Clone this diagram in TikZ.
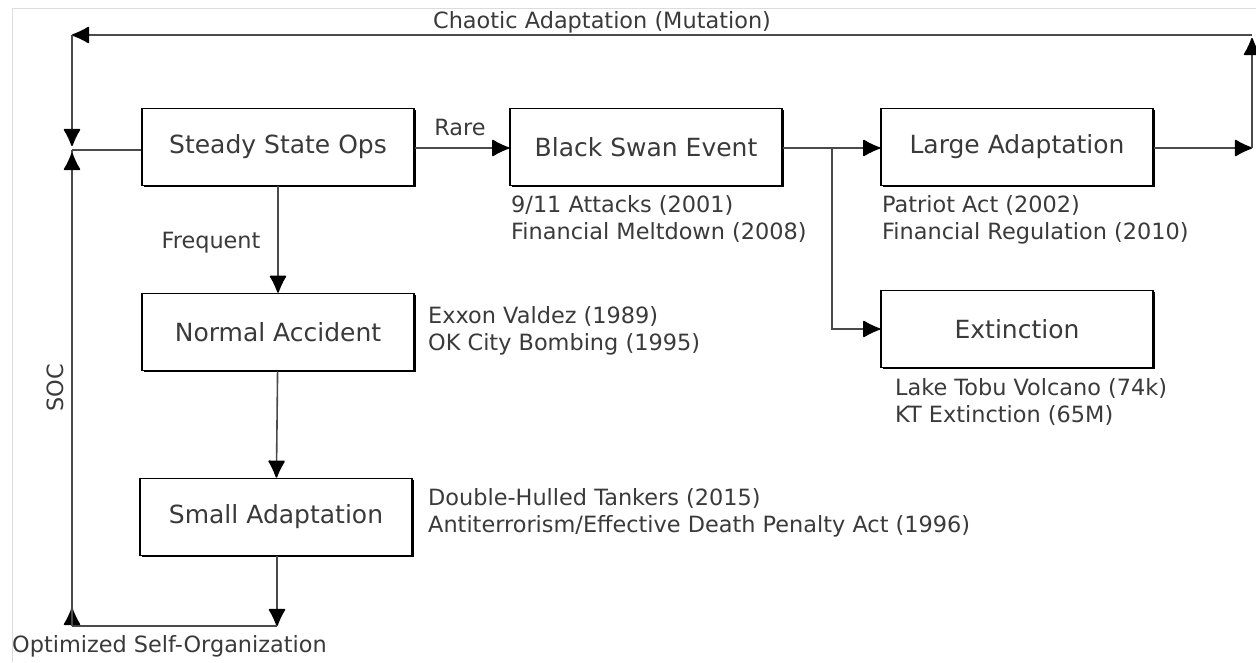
\documentclass[tikz,border=0pt]{standalone}
\usepackage{fontspec}
\setmainfont{DejaVu Sans}
\usetikzlibrary{arrows.meta,shadows,decorations.markings,calc}
\definecolor{ink}{HTML}{3A3A3A}
\definecolor{wire}{HTML}{4A4A4A}
\definecolor{frame}{HTML}{DCDCDC}
\begin{document}
\begin{tikzpicture}[x=1pt,y=-1pt,
  stagebox/.style={draw=black,line width=1.6pt,fill=white,minimum width=272pt,minimum height=77pt,
    inner sep=0pt,text=ink,font=\fontsize{25}{28}\selectfont,
    drop shadow={shadow xshift=1.6pt,shadow yshift=-1.6pt,fill=black,opacity=1}},
  note/.style={anchor=north west,align=left,text=ink,inner sep=0pt,font=\fontsize{22.4}{27}\selectfont},
  tag/.style={text=ink,inner sep=0pt,font=\fontsize{22.4}{26}\selectfont},
  wire/.style={draw=wire,line width=1.6pt},
  tip/.style={wire,-{Latex[length=19pt,width=18pt,round,color=black]}},
  tipmark/.style={wire,postaction={decorate},decoration={markings,
    mark=at position 18pt with {\arrow{Latex[length=19pt,width=18pt,round,color=black]}}}}
]
\useasboundingbox (0,0) rectangle (1256,662);
% light page frame
\draw[frame,line width=1pt] (12,662) -- (12,8) -- (1256,8);

% stages
\node[stagebox] (ss) at (278,147) {Steady State Ops};
\node[stagebox] (bs) at (646,147) {Black Swan Event};
\node[stagebox] (la) at (1017,147) {Large Adaptation};
\node[stagebox] (na) at (278,332) {Normal Accident};
\node[stagebox] (sa) at (276,517) {Small Adaptation};
\node[stagebox] (ex) at (1017,329) {Extinction};

% examples under each stage
\node[note] (bsn) at (511,195) {9/11 Attacks (2001)\\Financial Meltdown (2008)};
\node[note] (lan) at (882,195) {Patriot Act (2002)\\Financial Regulation (2010)};
\node[note] (nan) at (428,306) {Exxon Valdez (1989)\\OK City Bombing (1995)};
\node[note] (exn) at (895,378) {Lake Tobu Volcano (74k)\\KT Extinction (65M)};
\node[note] (san) at (428,488) {Double-Hulled Tankers (2015)\\Antiterrorism/Effective Death Penalty Act (1996)};

% route points
\coordinate (fork) at (832,148);
\coordinate (rj) at (1252,148);
\coordinate (tr) at (1252,35);
\coordinate (tl) at (72,35);
\coordinate (lj) at (72,150);
\coordinate (bl) at (72,626);
\coordinate (br) at (277,626);

% main flow
\draw[tip] (ss.east |- 0,148) -- (bs.west |- 0,148);
\draw[tip] (bs.east |- fork) -- (la.west |- fork);
\draw[tip] (fork) |- (ex.west);
\draw[tip] (ss) -- (na);
\draw[tip] (na) -- (sa);

% chaotic adaptation loop
\draw[tip] (la.east |- rj) -- (rj);
\draw[tip,shorten >=3pt] (rj) -- (tr);
\draw[tip] (tr) -- (tl);
\draw[tip,shorten >=4pt] (tl) -- (lj);
\draw[wire] (ss.west |- lj) -- (lj);

% optimized self-organization loop
\draw[tip] (sa.south -| br) -- (br);
\draw[wire] (br) -- (bl);
\draw[tipmark] (bl) -- (lj);
\draw[tip,shorten >=3pt] (bl) -- (lj);

% labels
\node[tag] (chaos) at (602,22) {Chaotic Adaptation (Mutation)};
\node[tag] (rare) at (460,127) {Rare};
\node[tag] (freq) at (211,243) {Frequent};
\node[tag,rotate=90] (soc) at (55,388) {SOC};
\node[tag,anchor=west] (oso) at (12,646) {Optimized Self-Organization};
\end{tikzpicture}
\end{document}
